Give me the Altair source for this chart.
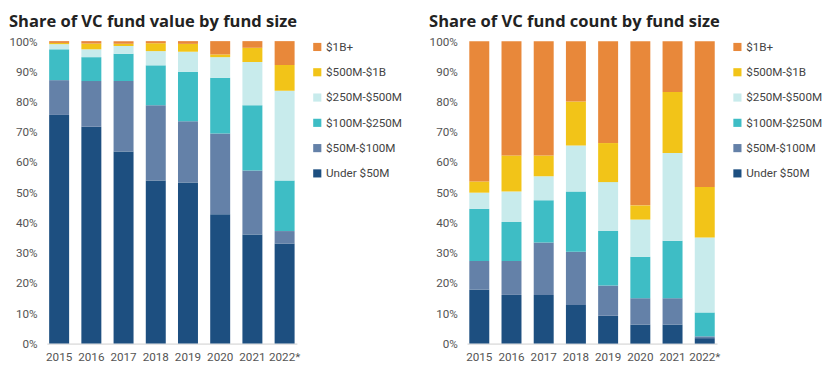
import altair as alt
import pandas as pd

years = ["2015", "2016", "2017", "2018", "2019", "2020", "2021", "2022*"]
categories = ["Under $50M", "$50M-$100M", "$100M-$250M", "$250M-$500M", "$500M-$1B", "$1B+"]
colors = ["#1D4F80", "#6481A8", "#3EBDC5", "#C8EBEC", "#F2C418", "#E8883A"]

# Share of VC fund value (%)
value_under50 = [75.6, 71.7, 63.5, 53.9, 53.3, 42.8, 36.1, 33.1]
value_50_100 = [11.5, 15.1, 23.3, 24.9, 20.2, 26.7, 21.1, 4.1]
value_100_250 = [10.2, 7.9, 9.0, 13.2, 16.4, 18.4, 21.6, 16.7]
value_250_500 = [1.7, 2.6, 2.6, 4.7, 6.6, 6.8, 14.3, 29.7]
value_500_1b = [0.4, 1.9, 0.7, 2.6, 2.6, 0.9, 4.7, 8.5]
value_1b_plus = [0.6, 0.8, 0.9, 0.7, 0.9, 4.4, 2.2, 7.9]

# Share of VC fund count (%)
count_under50 = [17.9, 16.1, 16.1, 12.8, 9.2, 6.3, 6.3, 1.8]
count_50_100 = [9.4, 11.2, 17.3, 17.6, 10.0, 8.7, 8.7, 0.6]
count_100_250 = [17.3, 12.9, 14.0, 19.9, 18.0, 13.7, 19.0, 7.9]
count_250_500 = [5.3, 10.1, 7.9, 15.2, 16.2, 12.3, 29.0, 24.8]
count_500_1b = [3.7, 11.9, 6.9, 14.5, 12.9, 4.7, 20.2, 16.7]
count_1b_plus = [46.4, 37.8, 37.8, 20.0, 33.7, 54.3, 16.8, 48.2]

FONT = "Roboto"
TITLE_FONT = "Open Sans"


def make_df(series):
    rows = []
    for idx, (cat, vals) in enumerate(zip(categories, series)):
        for y, v in zip(years, vals):
            rows.append({"year": y, "cat": cat, "idx": idx, "value": v})
    return pd.DataFrame(rows)


value_df = make_df([value_under50, value_50_100, value_100_250, value_250_500, value_500_1b, value_1b_plus])
count_df = make_df([count_under50, count_50_100, count_100_250, count_250_500, count_500_1b, count_1b_plus])


def panel(df, title):
    return alt.Chart(
        df,
        title=alt.Title(title, anchor="start", frame="bounds", fontSize=17, fontWeight="bold",
                        font=TITLE_FONT, color="#222222", offset=5),
    ).mark_bar().encode(
        x=alt.X("year:N", sort=years,
                scale=alt.Scale(paddingInner=0.38, paddingOuter=0.07),
                axis=alt.Axis(title=None, labelAngle=0, ticks=False, domainColor="#cccccc",
                              labelPadding=8, labelFontSize=12, labelColor="#555555", labelFont=FONT)),
        y=alt.Y("value:Q", stack="normalize",
                scale=alt.Scale(domain=[0, 1]),
                axis=alt.Axis(title=None, format=".0%", values=[i / 10 for i in range(11)],
                              domain=False, ticks=False, grid=False, labelPadding=10,
                              labelFontSize=12, labelColor="#555555", labelFont=FONT)),
        color=alt.Color("cat:N",
                        scale=alt.Scale(domain=categories[::-1], range=colors[::-1]),
                        legend=alt.Legend(title=None, orient="right", offset=15, padding=0,
                                          symbolType="square", symbolSize=70, symbolStrokeWidth=0,
                                          rowPadding=14, labelFontSize=12, labelOffset=3,
                                          labelColor="#444444", labelFont=FONT)),
        order=alt.Order("idx:Q", sort="ascending"),
    ).properties(width=257, height=311)


left = panel(value_df, "Share of VC fund value by fund size")
right = panel(count_df, "Share of VC fund count by fund size")

chart = alt.hconcat(left, right, spacing=26).resolve_scale(color="independent").configure_view(
    stroke=None).properties(padding=0)

chart.save("out.html", embed_options={"renderer": "svg", "actions": False})
